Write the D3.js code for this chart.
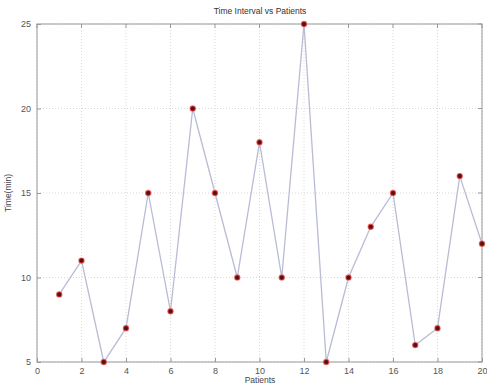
<!DOCTYPE html>
<html><head><meta charset="utf-8">
<script src="https://cdn.jsdelivr.net/npm/d3@7"></script>
<style>body{margin:0;background:#fff}svg{display:block}text{font-family:"Liberation Sans",Arial,sans-serif}</style>
</head><body>
<svg id="c" width="487" height="385"></svg>
<script>
const patients = [1,2,3,4,5,6,7,8,9,10,11,12,13,14,15,16,17,18,19,20];
const times = [9,11,5,7,15,8,20,15,10,18,10,25,5,10,13,15,6,7,16,12];
const xTicks = [0,2,4,6,8,10,12,14,16,18,20];
const yTicks = [5,10,15,20,25];

const svg = d3.select("#c");
const m = {l:37, r:482, t:24, b:362};
const x = d3.scaleLinear().domain([0,20]).range([m.l,m.r]);
const y = d3.scaleLinear().domain([5,25]).range([m.b,m.t]);

// grid
svg.append("g").selectAll("line.gx").data(xTicks).join("line")
  .attr("x1",d=>x(d)).attr("x2",d=>x(d)).attr("y1",m.t).attr("y2",m.b)
  .attr("stroke","#d8d8d8").attr("stroke-width",1).attr("stroke-dasharray","1,2");
svg.append("g").selectAll("line.gy").data(yTicks).join("line")
  .attr("x1",m.l).attr("x2",m.r).attr("y1",d=>y(d)).attr("y2",d=>y(d))
  .attr("stroke","#d8d8d8").attr("stroke-width",1).attr("stroke-dasharray","1,2");

// frame
svg.append("rect").attr("x",m.l).attr("y",m.t).attr("width",m.r-m.l).attr("height",m.b-m.t)
  .attr("fill","none").attr("stroke","#999").attr("stroke-width",1);

// axes
const xa = svg.append("g").attr("transform",`translate(0,${m.b})`)
  .call(d3.axisBottom(x).tickValues(xTicks).tickSize(-4).tickPadding(6));
const ya = svg.append("g").attr("transform",`translate(${m.l},0)`)
  .call(d3.axisLeft(y).tickValues(yTicks).tickSize(-4).tickPadding(6));
[xa,ya].forEach(a=>{
  a.select(".domain").remove();
  a.selectAll("line").attr("stroke","#999");
  a.selectAll("text").attr("fill","#555").style("font-size","9px");
});
// top/right ticks
svg.append("g").selectAll("line").data(xTicks).join("line")
  .attr("x1",d=>x(d)).attr("x2",d=>x(d)).attr("y1",m.t).attr("y2",m.t+4).attr("stroke","#999");
svg.append("g").selectAll("line").data(yTicks).join("line")
  .attr("x1",m.r).attr("x2",m.r-4).attr("y1",d=>y(d)).attr("y2",d=>y(d)).attr("stroke","#999");

// line
const line = d3.line().x((d,i)=>x(patients[i])).y(d=>y(d));
svg.append("path").datum(times).attr("d",line)
  .attr("fill","none").attr("stroke","#b8bcd4").attr("stroke-width",1.3);

// points
svg.append("g").selectAll("circle").data(times).join("circle")
  .attr("cx",(d,i)=>x(patients[i])).attr("cy",d=>y(d)).attr("r",2.6)
  .attr("fill","#5a1010").attr("stroke","#f04040").attr("stroke-width",1.2).attr("stroke-opacity",0.7);

// labels
svg.append("text").attr("x",260).attr("y",14).attr("text-anchor","middle")
  .style("font-size","8.5px").attr("fill","#333").text("Time Interval vs Patients");
svg.append("text").attr("x",260).attr("y",383).attr("text-anchor","middle")
  .style("font-size","8.5px").attr("fill","#444").text("Patients");
svg.append("text").attr("transform","translate(11,193) rotate(-90)").attr("text-anchor","middle")
  .style("font-size","8.5px").attr("fill","#444").text("Time(min)");
</script>
</body></html>
